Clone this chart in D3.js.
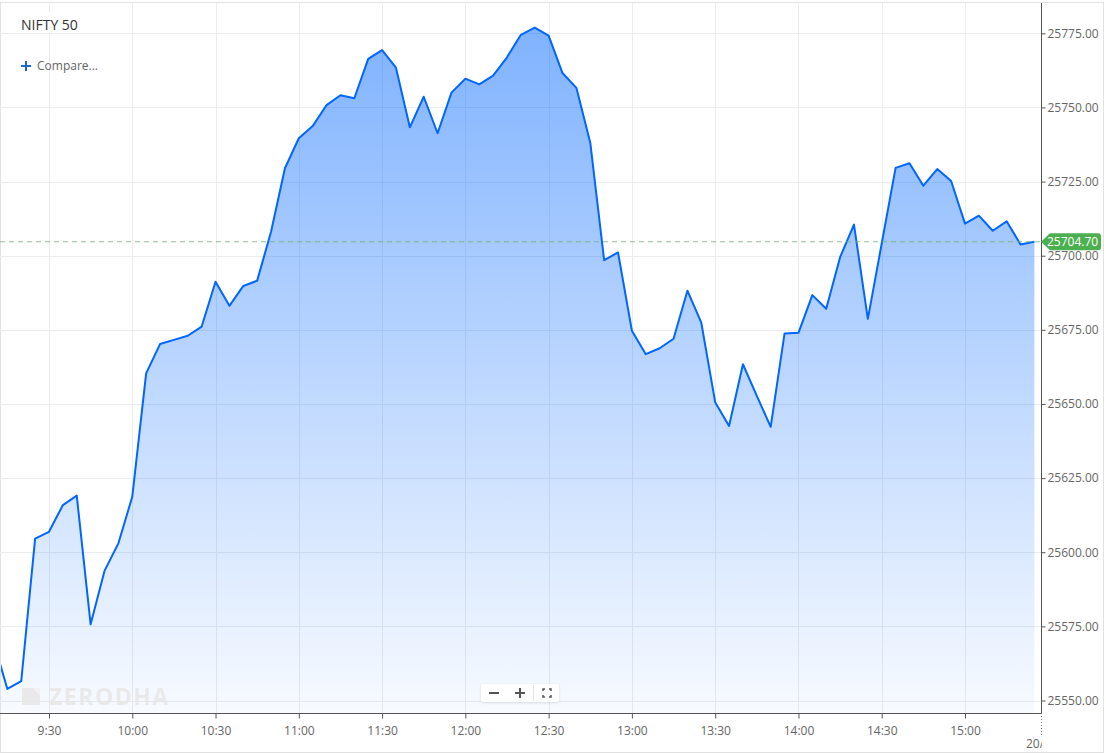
<!DOCTYPE html>
<html><head><meta charset="utf-8">
<script src="https://cdn.jsdelivr.net/npm/d3@7"></script>
<style>
html,body{margin:0;padding:0;background:#fff;}
svg{display:block;font-family:"Open Sans",sans-serif;}
</style></head>
<body>
<svg id="chart" width="1106" height="755"></svg>
<script>
// ---- data ----
const startTime = "09:10";          // first (clipped) 5-minute point
const stepMinutes = 5;
const prices = [25570,
 25553.9,25556.5,25604.6,25606.9,25615.9,25619.1,25575.7,25593.7,25603.0,25618.7,
 25660.3,25670.2,25671.6,25673.0,25676.1,25691.2,25683.1,25689.8,25691.6,25708.1,
 25729.5,25739.6,25743.7,25750.8,25754.1,25753.1,25766.4,25769.3,25763.4,25743.3,
 25753.6,25741.3,25755.0,25759.7,25757.8,25760.7,25766.9,25774.5,25776.9,25774.2,
 25761.6,25756.6,25738.1,25698.5,25701.1,25674.7,25666.8,25668.8,25672.0,25688.2,
 25677.4,25650.6,25642.6,25663.4,25652.7,25642.3,25673.8,25674.0,25686.7,25682.1,
 25699.5,25710.5,25678.7,25704.1,25729.6,25731.2,25723.6,25729.2,25725.2,25710.8,
 25713.5,25708.4,25711.6,25703.8,25704.7];
const lastPrice = 25704.70;
const yTicks = [25550,25575,25600,25625,25650,25675,25700,25725,25750,25775];
const xTickLabels = ["9:30","10:00","10:30","11:00","11:30","12:00","12:30","13:00","13:30","14:00","14:30","15:00"];
const dateLabel = "20/11";
const title = "NIFTY 50";
const compareLabel = "Compare...";
const watermark = "ZERODHA";

// ---- helpers ----
const toMin = s => { const [h,m] = s.split(":").map(Number); return h*60+m; };
const t0 = toMin(startTime);
const data = prices.map((v,i)=>({t:t0+i*stepMinutes, v}));

const svg = d3.select("#chart");
const plotL = 0, plotR = 1041, plotT = 3, plotB = 713;

const x = d3.scaleLinear().domain([552.35, 927.38]).range([plotL, plotR]);
const y = d3.scaleLinear().domain([25550, 25775]).range([700.5, 33.3]);

const defs = svg.append("defs");
const grad = defs.append("linearGradient").attr("id","fillGrad")
  .attr("gradientUnits","userSpaceOnUse").attr("x1",0).attr("x2",0)
  .attr("y1", y(d3.max(prices))).attr("y2", plotB);
grad.append("stop").attr("offset","0%").attr("stop-color","#0066ff").attr("stop-opacity",0.5);
grad.append("stop").attr("offset","100%").attr("stop-color","#0066ff").attr("stop-opacity",0.03);
defs.append("clipPath").attr("id","plotClip").append("rect")
  .attr("x",plotL+1).attr("y",plotT).attr("width",plotR-plotL-1).attr("height",plotB-plotT);
defs.append("clipPath").attr("id","dateClip").append("rect")
  .attr("x",1000).attr("y",730).attr("width",42).attr("height",25);
const shadow = defs.append("filter").attr("id","sh").attr("x","-20%").attr("y","-40%").attr("width","140%").attr("height","180%");
shadow.append("feDropShadow").attr("dx",0).attr("dy",1).attr("stdDeviation",1).attr("flood-color","#000").attr("flood-opacity",0.12);

// outer border
svg.append("rect").attr("x",0.5).attr("y",2.5).attr("width",1103).attr("height",750)
  .attr("fill","none").attr("stroke","#e2e2e2");

// gridlines
const xTickVals = xTickLabels.map(toMin);
const grid = svg.append("g");
grid.selectAll(".gx").data(xTickVals).join("line")
  .attr("x1",d=>Math.round(x(d))+0.5).attr("x2",d=>Math.round(x(d))+0.5)
  .attr("y1",plotT).attr("y2",plotB).attr("stroke","#ececec");
grid.selectAll(".gy").data(yTicks).join("line")
  .attr("x1",plotL).attr("x2",plotR)
  .attr("y1",d=>Math.round(y(d))+0.5).attr("y2",d=>Math.round(y(d))+0.5).attr("stroke","#ececec");

// area + line
const plot = svg.append("g").attr("clip-path","url(#plotClip)");
const lastT = data[data.length-1].t;
plot.append("path").datum(data)
  .attr("d", d3.area().x(d=>x(d.t)).y0(plotB).y1(d=>y(d.v)))
  .attr("fill","url(#fillGrad)");
plot.append("path").datum(data)
  .attr("d", d3.line().x(d=>x(d.t)).y(d=>y(d.v)))
  .attr("fill","none").attr("stroke","#0066ff").attr("stroke-width",2).attr("stroke-linejoin","round");

// watermark
const wm = svg.append("g").attr("opacity",0.9);
wm.append("path").attr("d","M22,688 L33,688 L40,695 L40,705 L22,705 Z").attr("fill","#e8e8e8");
wm.append("path").attr("d","M33,688 L40,688 L40,695 Z").attr("fill","#f2f2f2");
wm.append("text").attr("x",49).attr("y",705).attr("font-size",23).attr("font-weight",700)
  .attr("letter-spacing",1.5).attr("fill","#e8e8e8").text(watermark);

// dashed last-price line
svg.append("line").attr("x1",plotL).attr("x2",plotR)
  .attr("y1",y(lastPrice)).attr("y2",y(lastPrice))
  .attr("stroke","#6fb07a").attr("stroke-dasharray","5,4").attr("stroke-width",1).attr("opacity",0.8);

// x axis
const xAxis = d3.axisBottom(x).tickValues(xTickVals)
  .tickFormat((d,i)=>xTickLabels[i]).tickSize(5).tickSizeOuter(0);
const gx = svg.append("g").attr("transform",`translate(0,${plotB+0.5})`).call(xAxis);
gx.select(".domain").attr("stroke","#555").attr("d",`M${plotL},0H${plotR}`);
gx.selectAll(".tick line").attr("stroke","#555");
gx.selectAll(".tick text").attr("fill","#666").attr("font-size",12).attr("font-family","Open Sans").attr("dy","1.15em");

// date tick (dotted) at right edge
svg.append("line").attr("x1",plotR+0.5).attr("x2",plotR+0.5).attr("y1",plotB).attr("y2",736)
  .attr("stroke","#777").attr("stroke-dasharray","1,2");
svg.append("text").attr("clip-path","url(#dateClip)").attr("x",1026).attr("y",748)
  .attr("font-size",12).attr("fill","#666").text(dateLabel);

// y axis (right)
const yAxis = d3.axisRight(y).tickValues(yTicks).tickFormat(d3.format(".2f")).tickSize(4).tickSizeOuter(0);
const gy = svg.append("g").attr("transform",`translate(${plotR+0.5},0)`).call(yAxis);
gy.select(".domain").attr("stroke","#555").attr("d",`M0,${plotT}V${plotB}`);
gy.selectAll(".tick line").attr("stroke","#555");
gy.selectAll(".tick text").attr("fill","#666").attr("font-size",12).attr("font-family","Open Sans").attr("x",6);

// price tag
const py = y(lastPrice);
svg.append("path")
  .attr("d",`M${plotR},${py} L${plotR+9},${py-8.5} H${1098} Q${1101},${py-8.5} ${1101},${py-5.5} V${py+5.5} Q${1101},${py+8.5} ${1098},${py+8.5} H${plotR+9} Z`)
  .attr("fill","#4caf50");
svg.append("text").attr("x",1047).attr("y",py).attr("dy","0.36em").attr("font-size",12)
  .attr("fill","#fff").text(lastPrice.toFixed(2));

// legend
svg.append("rect").attr("x",10).attr("y",12).attr("width",78).attr("height",21).attr("fill","#fff");
svg.append("text").attr("x",21).attr("y",30).attr("font-size",14).attr("fill","#333").text(title);
svg.append("path").attr("d","M21,66 H31 M26,61 V71").attr("stroke","#1a66d6").attr("stroke-width",2);
svg.append("text").attr("x",37).attr("y",70).attr("font-size",12).attr("fill","#666").text(compareLabel);

// zoom controls
const zc = svg.append("g");
zc.append("rect").attr("x",481).attr("y",684).attr("width",78).attr("height",18).attr("rx",2)
  .attr("fill","#fff").attr("filter","url(#sh)");
zc.append("path").attr("d","M489,693 H499").attr("stroke","#555").attr("stroke-width",2);
zc.append("path").attr("d","M515,693 H525 M520,688 V698").attr("stroke","#555").attr("stroke-width",2);
zc.append("line").attr("x1",533.5).attr("x2",533.5).attr("y1",685).attr("y2",701).attr("stroke","#e4e4e4");
zc.append("path").attr("d","M543,691 V689 H545 M549,689 H551 V691 M551,695 V697 H549 M545,697 H543 V695")
  .attr("fill","none").attr("stroke","#555").attr("stroke-width",1.5);
</script>
</body></html>
